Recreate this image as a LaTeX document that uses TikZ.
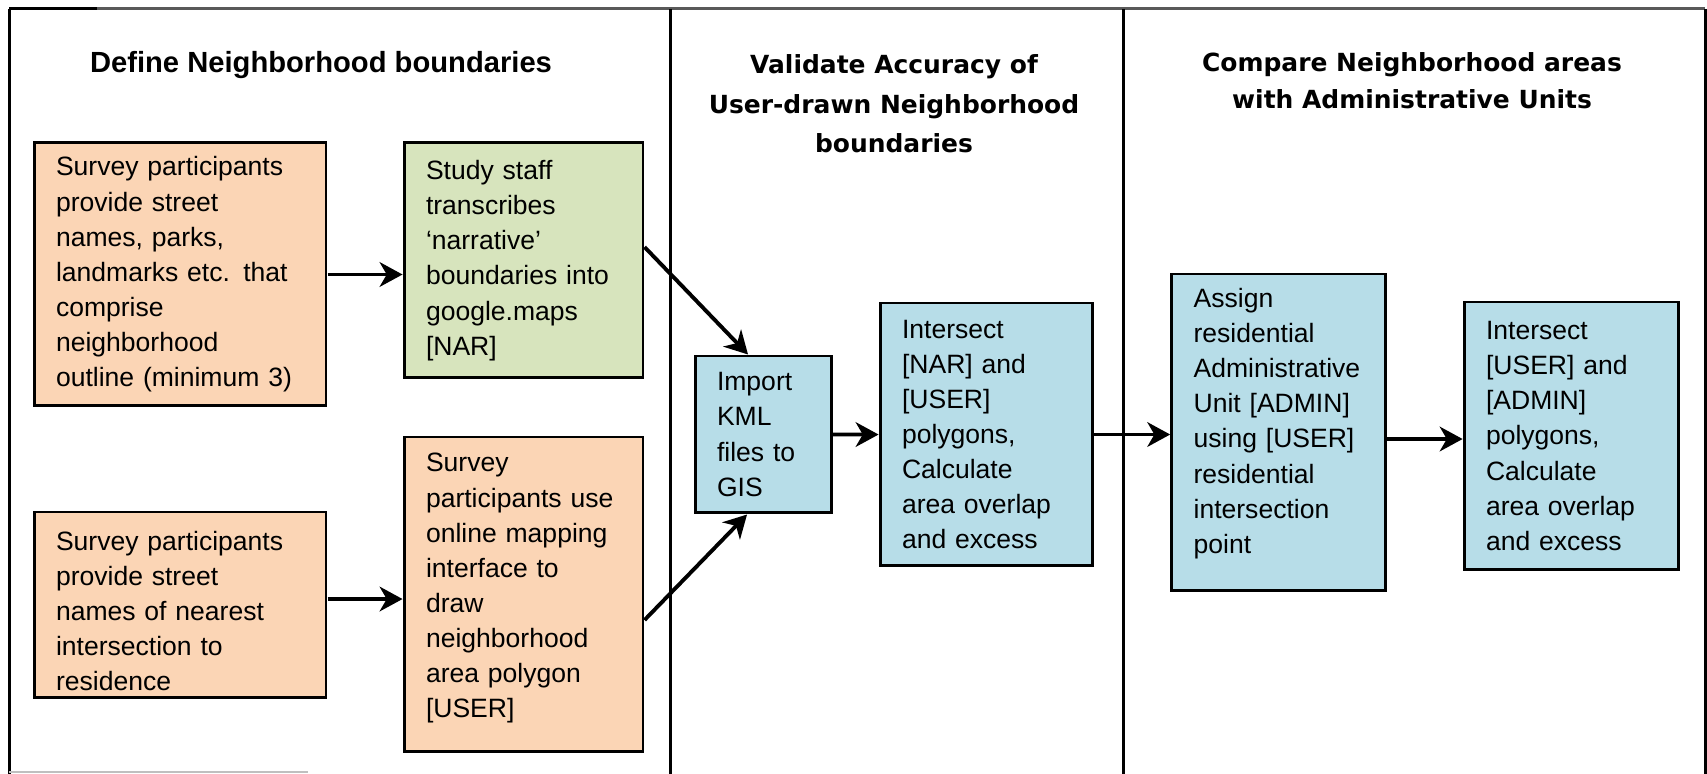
\documentclass[tikz,border=0pt]{standalone}
\usepackage{fontspec}
\setmainfont{Liberation Sans}
\newfontfamily\titlefont{DejaVu Sans}
\usetikzlibrary{arrows.meta,calc}

\definecolor{peach}{HTML}{FBD5B5}
\definecolor{sage}{HTML}{D7E4BD}
\definecolor{aqua}{HTML}{B7DDE8}

\begin{document}
\begin{tikzpicture}[scale=0.1]
    \tikzstyle{every node}+=[inner sep=0pt]
    \tikzstyle{box}=[draw=black, line width=0.85pt, rectangle, inner xsep=0.22cm, align=left, font=\fontsize{7.55}{10}\selectfont]
    \tikzstyle{flow}=[line width=1.1pt, -{Stealth[length=6.5pt,width=7pt,inset=2pt]}]
    \tikzstyle{rule}=[line width=0.85pt]
    \useasboundingbox (0,0) rectangle (170.7,-77.4);
    % frame and columns
    \draw [rule] (0.93,-0.9) -- (0.93,-77.4);
    \draw [rule] (0.93,-0.9) -- (9.7,-0.9);
    \draw [rule, black!65] (9.7,-0.9) -- (170.5,-0.9);
    \draw [rule] (67.05,-0.9) -- (67.05,-77.4);
    \draw [rule] (112.3,-0.9) -- (112.3,-77.4);
    \draw [rule] (170.5,-0.9) -- (170.5,-77.4);
    \draw [black!25, line width=0.6pt] (0.93,-77.2) -- (30.8,-77.2);
    % titles
    \node [font=\bfseries\fontsize{8.3}{10}\selectfont] (deftitle) at (32.1,-6.5) {Define Neighborhood boundaries};
    \node [align=center, font=\titlefont\bfseries\fontsize{7.1}{11.2}\selectfont] (valtitle) at (89.4,-10.4) {Validate Accuracy of\\User-drawn Neighborhood\\boundaries};
    \node [align=center, font=\titlefont\bfseries\fontsize{7.1}{10.5}\selectfont] (cmptitle) at (141.2,-8.05) {Compare Neighborhood areas\\with Administrative Units};
    % define column
    \node [box, fill=peach, text width=2.48cm, minimum height=2.63cm] (survA) at (18.0,-27.45) {Survey participants\\provide street\\names, parks,\\landmarks etc. that\\comprise\\neighborhood\\outline (minimum 3)};
    \node [box, fill=sage, text width=1.95cm, minimum height=2.35cm] (staffB) at (52.35,-26.05) {Study staff\\transcribes\\`narrative'\\boundaries into\\google.maps\\{[NAR]}};
    \node [box, fill=peach, text width=2.48cm, minimum height=1.86cm] (survC) at (18.0,-60.5) {\rule{0pt}{9pt}Survey participants\\provide street\\names of nearest\\intersection to\\residence};
    \node [box, fill=peach, text width=1.95cm, minimum height=3.15cm] (survD) at (52.35,-59.45) {Survey\\participants use\\online mapping\\interface to\\draw\\neighborhood\\area polygon\\{[USER]}\rule[-5pt]{0pt}{5pt}};
    % validate column
    \node [box, fill=aqua, text width=0.92cm, minimum height=1.57cm] (kml) at (76.3,-43.45) {Import\\KML\\files to\\GIS};
    \node [box, fill=aqua, text width=1.68cm, minimum height=2.63cm] (isect1) at (98.6,-43.45) {Intersect\\{[NAR]} and\\{[USER]}\\polygons,\\Calculate\\area overlap\\and excess};
    % compare column
    \node [box, fill=aqua, text width=1.70cm, minimum height=3.17cm] (assign) at (127.86,-43.25) {Assign\\residential\\Administrative\\Unit [ADMIN]\\using [USER]\\residential\\intersection\\point\rule[-6.7pt]{0pt}{6.7pt}};
    \node [box, fill=aqua, text width=1.70cm, minimum height=2.68cm] (isect2) at (157.1,-43.6) {Intersect\\{[USER]} and\\{[ADMIN]}\\polygons,\\Calculate\\area overlap\\and excess};
    % arrows
    \draw [flow] (survA.east) -- (survA.east -| staffB.west);
    \draw [flow] ($(survC.east)+(0,0.6)$) -- ($(survC.east -| survD.west)+(0,0.6)$);
    \draw [flow] ($(staffB.east)+(0,1.35)$) -- ($(kml.north)+(-1.5,0)$);
    \draw [flow] ($(survD.east)+(0,-2.55)$) -- ($(kml.south)+(-1.6,0)$);
    \draw [flow] (kml) -- (isect1);
    \draw [flow] (isect1.east) -- (isect1.east -| assign.west);
    \draw [flow] ($(assign.east)+(0,-0.65)$) -- ($(assign.east -| isect2.west)+(0,-0.65)$);
\end{tikzpicture}
\end{document}
